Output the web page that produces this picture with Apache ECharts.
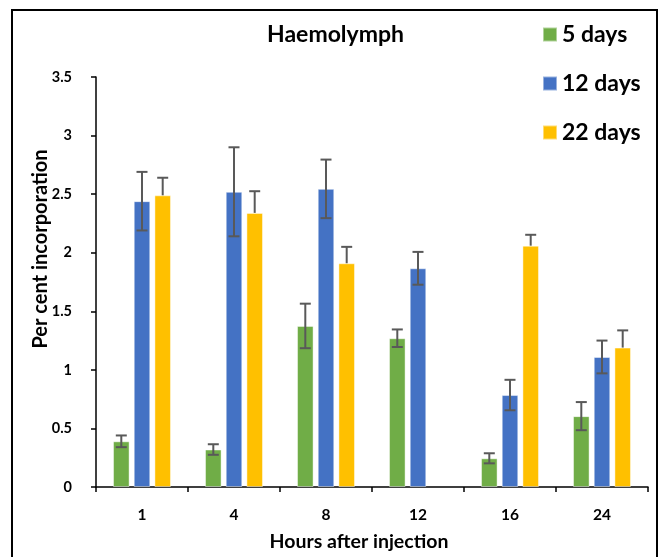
<!DOCTYPE html>
<html>
<head>
<meta charset="utf-8">
<script src="https://cdn.jsdelivr.net/npm/echarts@6/dist/echarts.min.js"></script>
<style>
html,body{margin:0;padding:0;background:#fff;}
#c{width:663px;height:557px;}
</style>
</head>
<body>
<div id="c"></div>
<script>
const categories = ['1', '4', '8', '12', '16', '24'];
const seriesNames = ['5 days', '12 days', '22 days'];
const days5 = [0.39, 0.32, 1.375, 1.27, 0.245, 0.605];
const days12 = [2.44, 2.52, 2.545, 1.867, 0.785, 1.11];
const days22 = [2.49, 2.34, 1.91, null, 2.06, 1.19];
const err5 = [0.05, 0.045, 0.19, 0.075, 0.043, 0.12];
const err12 = [0.25, 0.38, 0.25, 0.14, 0.13, 0.14];
const err22 = [0.15, 0.185, 0.14, null, 0.093, 0.147];
const yTicks = [0, 0.5, 1, 1.5, 2, 2.5, 3, 3.5];

const colors = ['#70AD47', '#4472C4', '#FFC000'];
const FONT = 'Lato';
const BAR_W = 0.18, BAR_GAP = 0.25;

function errData(vals, errs, plusOnly) {
  const out = [];
  vals.forEach((v, i) => {
    if (v == null || errs[i] == null) return;
    out.push([i, plusOnly ? v : v - errs[i], v + errs[i], plusOnly ? 1 : 0]);
  });
  return out;
}

function errSeries(data, idx) {
  return {
    type: 'custom',
    name: 'err' + idx,
    z: 10,
    silent: true,
    data: data,
    encode: { x: 0, y: [1, 2] },
    renderItem: function (params, api) {
      const ci = api.value(0);
      const lo = api.coord([ci, api.value(1)]);
      const hi = api.coord([ci, api.value(2)]);
      const catW = api.size([1, 0])[0];
      const off = (idx - 1) * catW * BAR_W * (1 + BAR_GAP);
      const x = lo[0] + off;
      const cap = 5.5;
      const style = { stroke: '#595959', lineWidth: 2 };
      const children = [
        { type: 'line', shape: { x1: x, y1: lo[1], x2: x, y2: hi[1] }, style: style },
        { type: 'line', shape: { x1: x - cap, y1: hi[1], x2: x + cap, y2: hi[1] }, style: style }
      ];
      if (!api.value(3)) {
        children.push({ type: 'line', shape: { x1: x - cap, y1: lo[1], x2: x + cap, y2: lo[1] }, style: style });
      }
      return { type: 'group', children: children };
    }
  };
}

const chart = echarts.init(document.getElementById('c'));
const barStyle = { borderColor: 'rgba(255,255,255,0.45)', borderWidth: 1 };
chart.setOption({
  animation: false,
  textStyle: { fontFamily: FONT },
  title: {
    text: 'Haemolymph',
    left: 267, top: 23, padding: 0,
    textStyle: { fontFamily: FONT, fontSize: 23, fontWeight: 'bold', color: '#000' }
  },
  legend: {
    data: seriesNames,
    orient: 'vertical',
    left: 542, top: 23, padding: 0,
    itemWidth: 14, itemHeight: 14,
    itemGap: 26,
    icon: 'rect',
    textStyle: { fontFamily: FONT, fontSize: 23, fontWeight: 'bold', color: '#000' }
  },
  graphic: [{
    type: 'rect',
    shape: { x: 12, y: 10, width: 645, height: 570 },
    style: { fill: 'none', stroke: '#000', lineWidth: 2 },
    silent: true, z: -1
  }],
  grid: { left: 96, right: 15, top: 77, bottom: 67, containLabel: false },
  xAxis: {
    type: 'category',
    data: categories,
    name: 'Hours after injection',
    nameLocation: 'middle',
    nameGap: 45,
    nameMoveOverlap: false,
    nameTextStyle: { fontFamily: FONT, fontSize: 19.5, fontWeight: 'bold', color: '#000', padding: [0, 26, 0, 0] },
    axisLine: { lineStyle: { color: '#000', width: 1.5 } },
    axisTick: { show: true, length: 5, lineStyle: { color: '#000', width: 1.5 } },
    axisLabel: { margin: 20, fontFamily: FONT, fontSize: 15.5, fontWeight: 'bold', color: '#000' }
  },
  yAxis: {
    type: 'value',
    min: 0, max: 3.5, interval: 0.5,
    name: 'Per cent incorporation',
    nameLocation: 'middle',
    nameGap: 45,
    nameMoveOverlap: false,
    nameTextStyle: { fontFamily: FONT, fontSize: 20, fontWeight: 'bold', color: '#000', padding: [0, 0, 0, 66] },
    axisLine: { show: true, lineStyle: { color: '#000', width: 1.5 } },
    axisTick: { show: true, length: 5, lineStyle: { color: '#000', width: 1.5 } },
    splitLine: { show: false },
    axisLabel: {
      margin: 24, fontFamily: FONT, fontSize: 14.5, fontWeight: 'bold', color: '#000',
      formatter: function (v) { return yTicks.indexOf(v) >= 0 ? String(v) : ''; }
    }
  },
  series: [
    { name: seriesNames[0], type: 'bar', data: days5, barWidth: (BAR_W * 100) + '%', barGap: (BAR_GAP * 100) + '%', itemStyle: Object.assign({ color: colors[0] }, barStyle) },
    { name: seriesNames[1], type: 'bar', data: days12, barWidth: (BAR_W * 100) + '%', barGap: (BAR_GAP * 100) + '%', itemStyle: Object.assign({ color: colors[1] }, barStyle) },
    { name: seriesNames[2], type: 'bar', data: days22, barWidth: (BAR_W * 100) + '%', barGap: (BAR_GAP * 100) + '%', itemStyle: Object.assign({ color: colors[2] }, barStyle) },
    errSeries(errData(days5, err5, false), 0),
    errSeries(errData(days12, err12, false), 1),
    errSeries(errData(days22, err22, true), 2)
  ]
});
</script>
</body>
</html>
